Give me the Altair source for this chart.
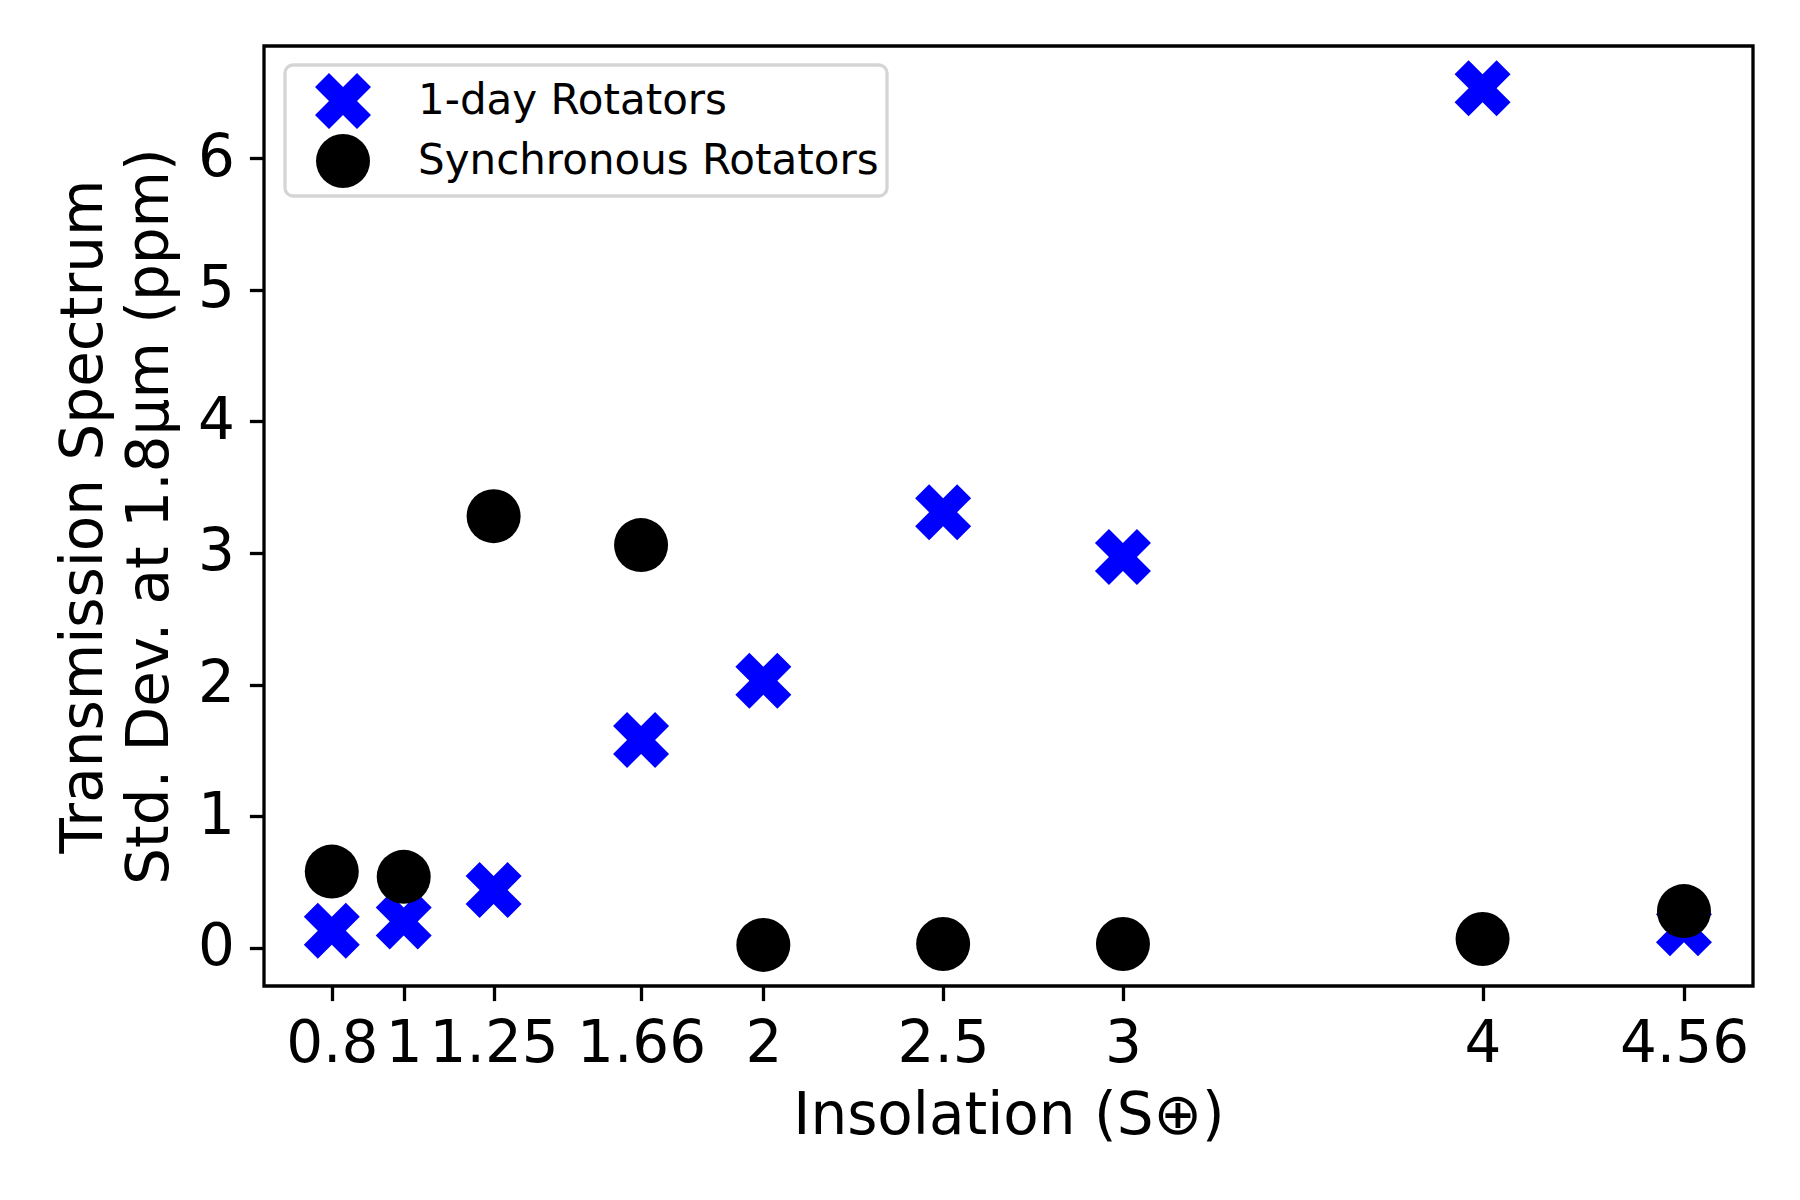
import altair as alt
import pandas as pd

# Insolation values (S_earth)
insolation = [0.8, 1.0, 1.25, 1.66, 2.0, 2.5, 3.0, 4.0, 4.56]
tick_values = [0.8, 1, 1.25, 1.66, 2, 2.5, 3, 4, 4.56]
y_ticks = [0, 1, 2, 3, 4, 5, 6]

# Std. dev. of transmission spectrum at 1.8 micron (ppm)
one_day = [0.13, 0.20, 0.44, 1.58, 2.03, 3.31, 2.97, 6.53, 0.15]
synchronous = [0.58, 0.54, 3.28, 3.06, 0.023, 0.03, 0.03, 0.068, 0.28]

series_names = ["1-day Rotators", "Synchronous Rotators"]

rows = []
for x, v in zip(insolation, one_day):
    rows.append({"insolation": x, "std": v, "series": series_names[0]})
for x, v in zip(insolation, synchronous):
    rows.append({"insolation": x, "std": v, "series": series_names[1]})
df = pd.DataFrame(rows)

X_PATH = ("M-0.5,-1L0,-0.5L0.5,-1L1,-0.5L0.5,0L1,0.5L0.5,1L0,0.5"
          "L-0.5,1L-1,0.5L-0.5,0L-1,-0.5Z")

FONT = "DejaVu Sans"

chart = alt.Chart(df).mark_point(filled=True, opacity=1, strokeWidth=0).encode(
    x=alt.X(
        "insolation:Q",
        scale=alt.Scale(domain=[0.6115, 4.752], nice=False, zero=False),
        axis=alt.Axis(
            values=tick_values,
            format=".3~g",
            title="Insolation (S\u2295)",
            labelOverlap=False,
            labelFlush=False,
            grid=False,
            domain=False,
            tickSize=14.6,
            tickWidth=3.3,
            tickColor="black",
            labelPadding=15,
            labelFontSize=58,
            labelFont=FONT,
            labelColor="black",
            titleFontSize=58,
            titleFont=FONT,
            titleFontWeight="normal",
            titleColor="black",
            titlePadding=14,
        ),
    ),
    y=alt.Y(
        "std:Q",
        scale=alt.Scale(domain=[-0.289, 6.851], nice=False, zero=False),
        axis=alt.Axis(
            values=y_ticks,
            format="d",
            title=["Transmission Spectrum", "Std. Dev. at 1.8\u03bcm (ppm)"],
            labelOverlap=False,
            labelFlush=False,
            grid=False,
            domain=False,
            tickSize=14.6,
            tickWidth=3.3,
            tickColor="black",
            labelPadding=15,
            labelFontSize=58,
            labelFont=FONT,
            labelColor="black",
            titleFontSize=58,
            titleFont=FONT,
            titleFontWeight="normal",
            titleColor="black",
            titleLineHeight=66,
            titlePadding=18,
        ),
    ),
    color=alt.Color(
        "series:N",
        scale=alt.Scale(domain=series_names, range=["#0000ff", "#000000"]),
        legend=alt.Legend(
            title=None,
            orient="none",
            legendX=21,
            legendY=19,
            padding=8,
            fillColor="white",
            strokeColor="#d5d5d5",
            labelFont=FONT,
            labelFontSize=42,
            labelColor="black",
            labelLimit=2000,
            labelOffset=47,
            symbolOffset=22,
            symbolOpacity=1,
            symbolStrokeWidth=0,
            rowPadding=5,
        ),
    ),
    shape=alt.Shape(
        "series:N",
        scale=alt.Scale(domain=series_names, range=[X_PATH, "circle"]),
        legend=alt.Legend(title=None),
    ),
    size=alt.Size(
        "series:N",
        scale=alt.Scale(domain=series_names, range=[3136, 2916]),
        legend=alt.Legend(title=None),
    ),
    order=alt.Order("series:N", sort="ascending"),
).properties(
    width=1489,
    height=940,
    autosize=alt.AutoSizeParams(type="none"),
    padding={"left": 256, "top": 38, "right": 39, "bottom": 206},
).configure(
    background="white",
).configure_view(
    stroke="black",
    strokeWidth=3.3,
    fill="white",
).configure_legend(
    strokeWidth=3.3,
    cornerRadius=8,
    labelLimit=2000,
)

chart.save("out.html", embed_options={"renderer": "svg", "actions": False})
